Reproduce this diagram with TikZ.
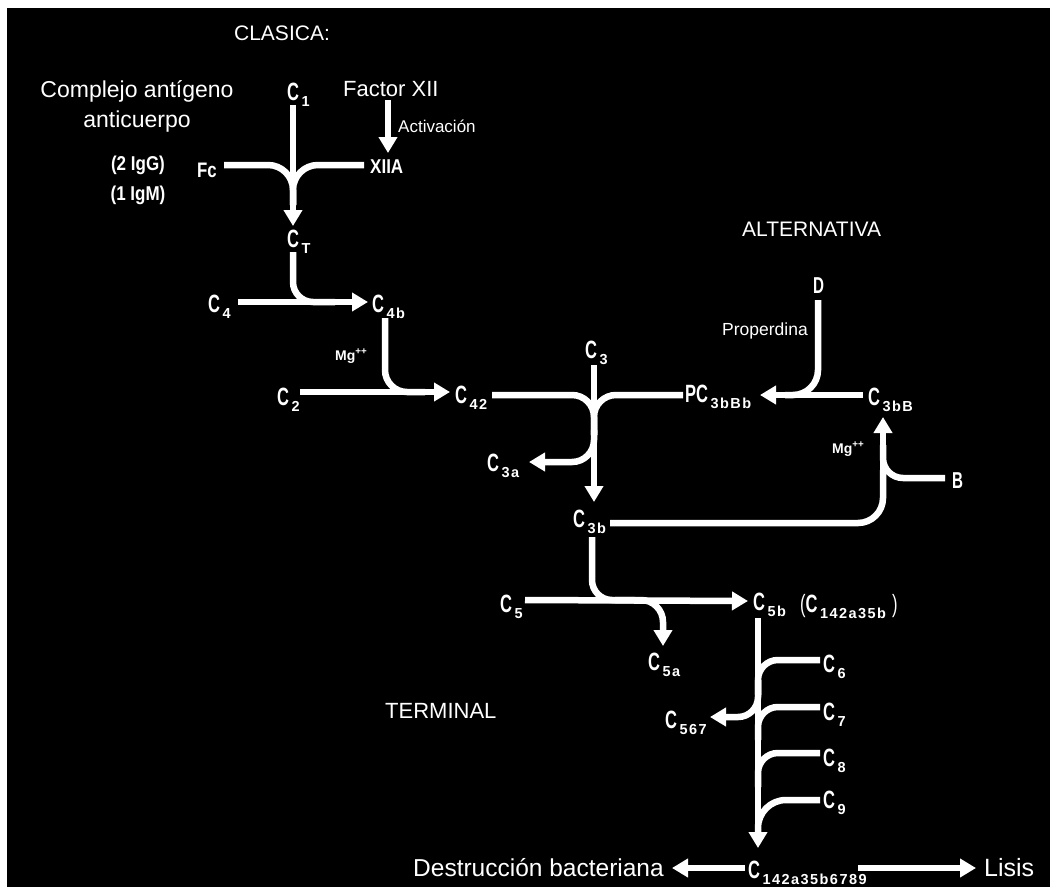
\documentclass[tikz,border=0pt]{standalone}
\usepackage{fontspec}
\setmainfont{Liberation Sans}
\newfontfamily\subfont[LetterSpace=10]{Liberation Sans}
\usetikzlibrary{arrows.meta}
\newcommand\Cl[2][]{{\fontsize{25}{25}\selectfont\bfseries\scalebox{0.66}[1]{#1C}}\hspace{2.5pt}\raisebox{-6pt}{\fontsize{14.5}{14.5}\subfont\bfseries #2}}
\newcommand\Nr[1]{{\fontsize{23}{23}\selectfont\bfseries\scalebox{0.66}[1]{#1}}}
\tikzset{
  lbl/.style={text=white, inner sep=0pt, anchor=base west},
  ctr/.style={text=white, inner sep=0pt, anchor=base},
  ln/.style={draw=white, line width=6.5pt},
  arr/.style={ln, -{Triangle[width=18pt,length=16pt]}},
  rc/.style={rounded corners=#1},
}
\begin{document}
\begin{tikzpicture}[x=1pt,y=-1pt]
\fill[white] (0,0) rectangle (1050,887);
\fill[black] (7,8) rectangle (1050,887);
% plain texts
\node[ctr, font=\fontsize{21}{21}\selectfont] (clasica) at (282,40) {CLASICA:};
\node[ctr, font=\fontsize{23}{23}\selectfont] (complejo) at (137,97) {Complejo antígeno};
\node[ctr, font=\fontsize{23}{23}\selectfont] (anticuerpo) at (137,127) {anticuerpo};
\node[ctr, font=\fontsize{20}{20}\selectfont\bfseries] (igg) at (138,170) {\scalebox{0.85}[1]{(2 IgG)}};
\node[ctr, font=\fontsize{20}{20}\selectfont\bfseries] (igm) at (138,200) {\scalebox{0.85}[1]{(1 IgM)}};
\node[lbl, font=\fontsize{21}{21}\selectfont\bfseries] (fc) at (197,177) {\scalebox{0.8}[1]{Fc}};
\node[lbl, font=\fontsize{22}{22}\selectfont] (fxii) at (343,96) {Factor XII};
\node[lbl, font=\fontsize{17}{17}\selectfont] (activ) at (398,132) {Activación};
\node[lbl, font=\fontsize{20}{20}\selectfont\bfseries] (xiia) at (370,173) {\scalebox{0.85}[1]{XIIA}};
\node[lbl, font=\fontsize{14}{14}\selectfont\bfseries] (mg1) at (335,360) {Mg\textsuperscript{++}};
\node[lbl, font=\fontsize{17.5}{17.5}\selectfont] (properdina) at (722,335) {Properdina};
\node[lbl, font=\fontsize{21}{21}\selectfont] (alt) at (742,236) {ALTERNATIVA};
\node[lbl, font=\fontsize{14}{14}\selectfont\bfseries] (mg2) at (832,453) {Mg\textsuperscript{++}};
\node[lbl, font=\fontsize{22}{22}\selectfont] (terminal) at (385,718) {TERMINAL};
\node[lbl, font=\fontsize{24.5}{24.5}\selectfont] (destr) at (413,876) {Destrucción bacteriana};
\node[lbl, font=\fontsize{25}{25}\selectfont] (lisis) at (984,876) {Lisis};
\node[lbl] (d) at (813,293) {\Nr{D}};
\node[lbl] (b) at (952,488) {\Nr{B}};
% C labels
\node[lbl] (c1) at (287,100) {\Cl{1}};
\node[lbl] (cT) at (287,247) {\Cl{T}};
\node[lbl] (c4) at (208,312) {\Cl{4}};
\node[lbl] (c4b) at (372,312) {\Cl{4b}};
\node[lbl] (c2) at (277,405) {\Cl{2}};
\node[lbl] (c42) at (455,403) {\Cl{42}};
\node[lbl] (c3) at (585,358) {\Cl{3}};
\node[lbl] (pc) at (685,402) {\Cl[P]{3bBb}};
\node[lbl] (c3bB) at (868,405) {\Cl{3bB}};
\node[lbl] (c3a) at (487,471) {\Cl{3a}};
\node[lbl] (c3b) at (573,527) {\Cl{3b}};
\node[lbl] (c5) at (500,612) {\Cl{5}};
\node[lbl] (c5b) at (753,610) {\Cl{5b}};
\node[lbl] (c142) at (800,612) {{\fontsize{25}{25}\selectfont\scalebox{0.66}[1]{(}}\Cl{142a35b}\hspace{6pt}{\fontsize{25}{25}\selectfont\scalebox{0.66}[1]{)}}};
\node[lbl] (c5a) at (648,670) {\Cl{5a}};
\node[lbl] (c6) at (823,672) {\Cl{6}};
\node[lbl] (c7) at (823,720) {\Cl{7}};
\node[lbl] (c8) at (823,766) {\Cl{8}};
\node[lbl] (c9) at (823,808) {\Cl{9}};
\node[lbl] (c567) at (665,728) {\Cl{567}};
\node[lbl] (cfin) at (748,878) {\Cl{142a35b6789}};
% classical pathway
\draw[arr] (293,105) -- (293,226);
\draw[ln, rc=25pt] (224,165) -- (293,165) -- (293,205);
\draw[ln, rc=25pt] (364,165) -- (293,165) -- (293,205);
\draw[arr] (388,100) -- (388,153);
\draw[ln, rc=20pt] (293,252) -- (293,302) -- (335,302);
\draw[arr] (238,302) -- (368,302);
\draw[ln, rc=22pt] (385,318) -- (385,392) -- (425,392);
\draw[arr] (300,392) -- (450,392);
\draw[ln, rc=22pt] (492,395) -- (594,395) -- (594,435);
\draw[ln, rc=22pt] (683,395) -- (594,395) -- (594,435);
\draw[arr] (594,365) -- (594,502);
\draw[arr, rc=22pt] (594,430) -- (594,462) -- (529,462);
% alternative pathway
\draw[arr] (863,395) -- (760,395);
\draw[ln, rc=25pt] (818,300) -- (818,395) -- (785,395);
\draw[ln, rc=25pt] (610,523) -- (883,523) -- (883,470);
\draw[arr] (883,490) -- (883,417);
\draw[ln, rc=20pt] (945,478) -- (883,478) -- (883,445);
% terminal
\draw[ln, rc=20pt] (592,537) -- (592,600) -- (635,600);
\draw[arr] (525,600) -- (748,601);
\draw[arr, rc=22pt] (615,600) -- (663,600) -- (663,646);
\draw[arr] (758,618) -- (758,848);
\draw[ln, rc=20pt] (820,660) -- (758,660) -- (758,695);
\draw[arr, rc=20pt] (758,680) -- (758,717) -- (710,717);
\draw[ln, rc=20pt] (820,707) -- (758,707) -- (758,740);
\draw[ln, rc=20pt] (820,753) -- (758,753) -- (758,787);
\draw[ln, rc=28pt] (820,800) -- (758,800) -- (758,840);
\draw[arr] (745,868) -- (672,868);
\draw[arr] (858,868) -- (976,868);
\end{tikzpicture}
\end{document}
